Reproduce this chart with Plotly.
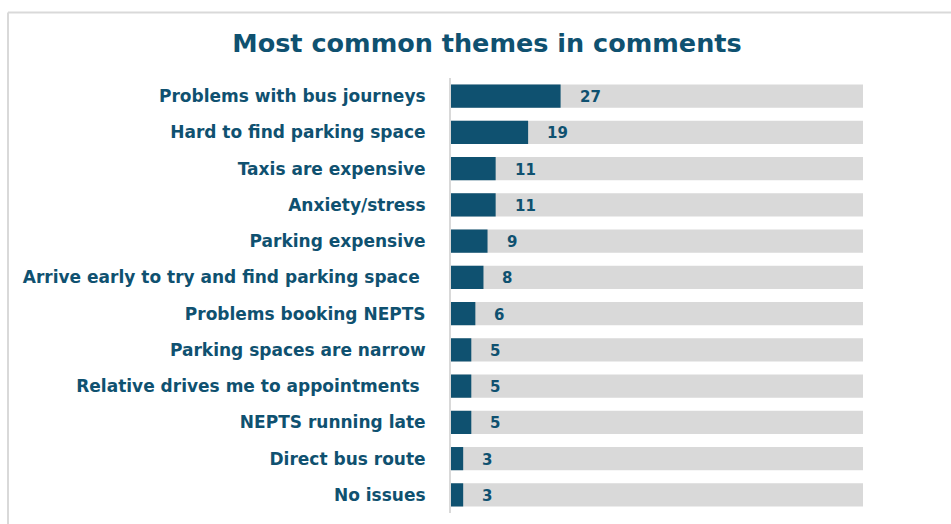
import plotly.graph_objects as go

# Survey comment themes and how often each was mentioned
themes = [
    "Problems with bus journeys",
    "Hard to find parking space",
    "Taxis are expensive",
    "Anxiety/stress",
    "Parking expensive",
    "Arrive early to try and find parking space ",
    "Problems booking NEPTS",
    "Parking spaces are narrow",
    "Relative drives me to appointments ",
    "NEPTS running late",
    "Direct bus route",
    "No issues",
]
counts = [27, 19, 11, 11, 9, 8, 6, 5, 5, 5, 3, 3]
scale_max = 101.5  # full length of the grey track behind each bar

TEAL = "#0f5170"
TRACK = "#d9d9d9"
FONT = "DejaVu Sans"

W, H = 951, 524
L, R, T, B = 451, 88, 78, 11

fig = go.Figure()
fig.add_trace(go.Bar(
    y=themes, x=[scale_max] * len(themes), orientation="h",
    marker=dict(color=TRACK, line_width=0), hoverinfo="skip", showlegend=False,
))
fig.add_trace(go.Bar(
    y=themes, x=counts, orientation="h",
    marker=dict(color=TEAL, line_width=0), showlegend=False,
))

for t, c in zip(themes, counts):
    fig.add_annotation(
        x=c, y=t, text=f"<b>{c}</b>", showarrow=False,
        xanchor="left", xshift=17, yshift=-1,
        font=dict(family=FONT, size=15, color=TEAL),
    )

# convert pixel positions to paper coordinates for the outer frame
pw, ph = W - L - R, H - T - B
def px_x(p):
    return (p - L) / pw
def px_y(p):
    return 1 - (p - T) / ph

frame = dict(color=TRACK, width=2)
fig.add_shape(type="line", xref="paper", yref="paper",
              x0=px_x(8), x1=px_x(960), y0=px_y(12.5), y1=px_y(12.5), line=frame)
fig.add_shape(type="line", xref="paper", yref="paper",
              x0=px_x(8), x1=px_x(8), y0=px_y(12.5), y1=px_y(540), line=frame)

fig.update_layout(
    width=W, height=H,
    margin=dict(l=L, r=R, t=T, b=B),
    barmode="overlay", bargap=0.36,
    plot_bgcolor="white", paper_bgcolor="white",
    title=dict(
        text="<b>Most common themes in comments</b>",
        x=487 / W, xanchor="center", y=1 - 43 / H, yanchor="middle",
        font=dict(family=FONT, size=25.5, color=TEAL),
    ),
    xaxis=dict(range=[0, scale_max], visible=False, fixedrange=True),
    yaxis=dict(
        autorange="reversed", showgrid=False, zeroline=False,
        showline=True, linecolor=TRACK, linewidth=2,
        ticks="", ticklabelstandoff=20,
        tickfont=dict(family=FONT, size=17, color=TEAL, weight="bold"),
    ),
)

fig.write_html("out.html")
